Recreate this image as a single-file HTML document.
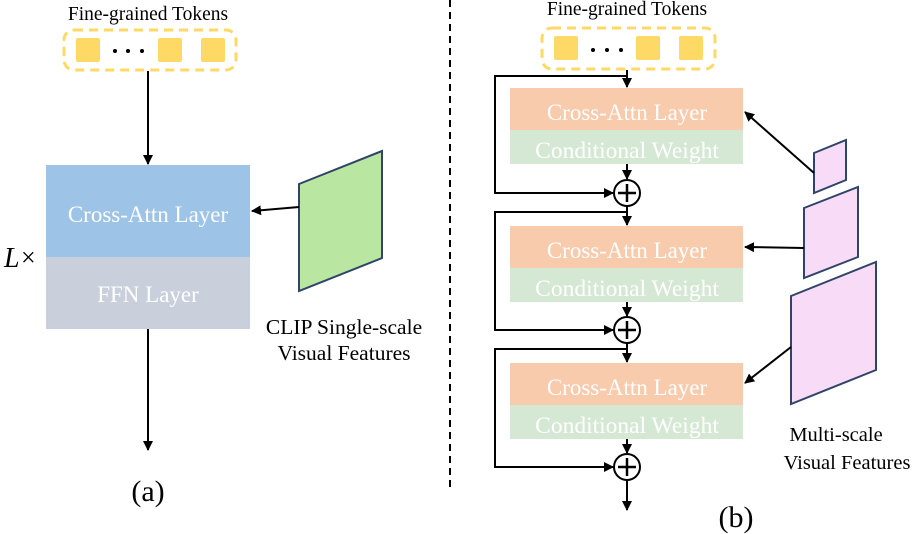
<!DOCTYPE html>
<html><head><meta charset="utf-8"><style>
html,body{margin:0;padding:0;background:#fff;}
svg{display:block;font-family:"Liberation Serif",serif;}
</style></head><body>
<svg width="913" height="534" viewBox="0 0 913 534" xmlns="http://www.w3.org/2000/svg">
<defs>
<marker id="ah" markerWidth="10" markerHeight="10" refX="9" refY="5" orient="auto" markerUnits="userSpaceOnUse">
<path d="M0,0 L10,5 L0,10 Z" fill="#000"/></marker>
</defs>
<!-- (a) -->
<text x="148" y="20" font-size="19.5" text-anchor="middle">Fine-grained Tokens</text>
<rect x="64" y="30" width="172" height="40" rx="10" fill="none" stroke="#ffd966" stroke-width="3" stroke-dasharray="9,6"/>
<rect x="76" y="38" width="24" height="24" rx="2" fill="#ffd966"/>
<rect x="158" y="38" width="24" height="24" rx="2" fill="#ffd966"/>
<rect x="201" y="38" width="24" height="24" rx="2" fill="#ffd966"/>
<circle cx="115" cy="51" r="2" fill="#000"/><circle cx="128" cy="51" r="2" fill="#000"/><circle cx="142" cy="51" r="2" fill="#000"/>
<line x1="148" y1="71" x2="148" y2="164" stroke="#000" stroke-width="2" marker-end="url(#ah)"/>
<rect x="46" y="165" width="204" height="92" fill="#9dc3e6"/>
<rect x="46" y="257" width="204" height="72" fill="#c9d0dc"/>
<text x="148" y="222" font-size="23" fill="#fff" text-anchor="middle">Cross-Attn Layer</text>
<text x="148" y="302" font-size="23" fill="#fff" text-anchor="middle">FFN Layer</text>
<text x="4" y="267" font-size="28" font-style="italic">L</text><text x="21" y="266" font-size="26">×</text>
<polygon points="299,184 382,151 382,258 299,291" fill="#b9e6a0" stroke="#2f4468" stroke-width="2"/>
<line x1="299" y1="207" x2="252" y2="211" stroke="#000" stroke-width="2" marker-end="url(#ah)"/>
<line x1="148" y1="329" x2="148" y2="450" stroke="#000" stroke-width="2" marker-end="url(#ah)"/>
<text x="344" y="334" font-size="21.5" text-anchor="middle">CLIP Single-scale</text>
<text x="344" y="360" font-size="21.5" text-anchor="middle">Visual Features</text>
<text x="148" y="501" font-size="30" text-anchor="middle">(a)</text>
<line x1="450" y1="0" x2="450" y2="492" stroke="#000" stroke-width="2" stroke-dasharray="7,5"/>
<!-- (b) -->
<text x="627" y="15" font-size="19.5" text-anchor="middle">Fine-grained Tokens</text>
<rect x="542" y="28" width="173" height="41" rx="10" fill="none" stroke="#ffd966" stroke-width="3" stroke-dasharray="9,6"/>
<rect x="554" y="36" width="24" height="24" rx="2" fill="#ffd966"/>
<rect x="636" y="36" width="24" height="24" rx="2" fill="#ffd966"/>
<rect x="679" y="36" width="24" height="24" rx="2" fill="#ffd966"/>
<circle cx="593" cy="50" r="2" fill="#000"/><circle cx="607" cy="50" r="2" fill="#000"/><circle cx="621" cy="50" r="2" fill="#000"/>
<!-- block 1 -->
<rect x="510" y="88" width="233" height="42" fill="#f8cbad"/>
<rect x="510" y="130" width="233" height="34" fill="#d5e8d4"/>
<text x="627" y="120" font-size="23" fill="#fff" text-anchor="middle">Cross-Attn Layer</text>
<text x="627" y="158" font-size="23.5" fill="#fff" text-anchor="middle">Conditional Weight</text>
<!-- block 2 -->
<rect x="510" y="226" width="233" height="42" fill="#f8cbad"/>
<rect x="510" y="268" width="233" height="34" fill="#d5e8d4"/>
<text x="627" y="258" font-size="23" fill="#fff" text-anchor="middle">Cross-Attn Layer</text>
<text x="627" y="296" font-size="23.5" fill="#fff" text-anchor="middle">Conditional Weight</text>
<!-- block 3 -->
<rect x="510" y="363" width="233" height="42" fill="#f8cbad"/>
<rect x="510" y="405" width="233" height="34" fill="#d5e8d4"/>
<text x="627" y="395" font-size="23" fill="#fff" text-anchor="middle">Cross-Attn Layer</text>
<text x="627" y="433" font-size="23.5" fill="#fff" text-anchor="middle">Conditional Weight</text>
<g stroke="#000" stroke-width="2" fill="none">
<line x1="627" y1="70" x2="627" y2="87" marker-end="url(#ah)"/>
<polyline points="627,76 495,76 495,193 613,193" marker-end="url(#ah)"/>
<line x1="627" y1="164" x2="627" y2="179" marker-end="url(#ah)"/>
<circle cx="627" cy="193" r="13" fill="#fff"/>
<line x1="627" y1="206" x2="627" y2="225" marker-end="url(#ah)"/>
<polyline points="627,212 495,212 495,330 613,330" marker-end="url(#ah)"/>
<line x1="627" y1="302" x2="627" y2="316" marker-end="url(#ah)"/>
<circle cx="627" cy="330" r="13" fill="#fff"/>
<line x1="627" y1="343" x2="627" y2="362" marker-end="url(#ah)"/>
<polyline points="627,349 495,349 495,467 613,467" marker-end="url(#ah)"/>
<line x1="627" y1="439" x2="627" y2="453" marker-end="url(#ah)"/>
<circle cx="627" cy="467" r="13" fill="#fff"/>
<line x1="627" y1="480" x2="627" y2="510" marker-end="url(#ah)"/>
</g>
<g stroke="#000" stroke-width="2.5">
<line x1="618" y1="193" x2="636" y2="193"/><line x1="627" y1="184" x2="627" y2="202"/>
<line x1="618" y1="330" x2="636" y2="330"/><line x1="627" y1="321" x2="627" y2="339"/>
<line x1="618" y1="467" x2="636" y2="467"/><line x1="627" y1="458" x2="627" y2="476"/>
</g>
<polygon points="814,153 846,140 846,180 814,193" fill="#f8dbf6" stroke="#2f4468" stroke-width="2"/>
<polygon points="804,208 858,187 858,257 804,278" fill="#f8dbf6" stroke="#2f4468" stroke-width="2"/>
<polygon points="791,296 876,262 876,370 791,404" fill="#f8dbf6" stroke="#2f4468" stroke-width="2"/>
<g stroke="#000" stroke-width="2">
<line x1="814" y1="173" x2="745" y2="112" marker-end="url(#ah)"/>
<line x1="804" y1="248" x2="745" y2="247" marker-end="url(#ah)"/>
<line x1="791" y1="347" x2="745" y2="383" marker-end="url(#ah)"/>
</g>
<text x="836" y="441" font-size="20.5" text-anchor="middle">Multi-scale</text>
<text x="847" y="469" font-size="20.5" text-anchor="middle">Visual Features</text>
<text x="736" y="527" font-size="30" text-anchor="middle">(b)</text>
</svg>
</body></html>
